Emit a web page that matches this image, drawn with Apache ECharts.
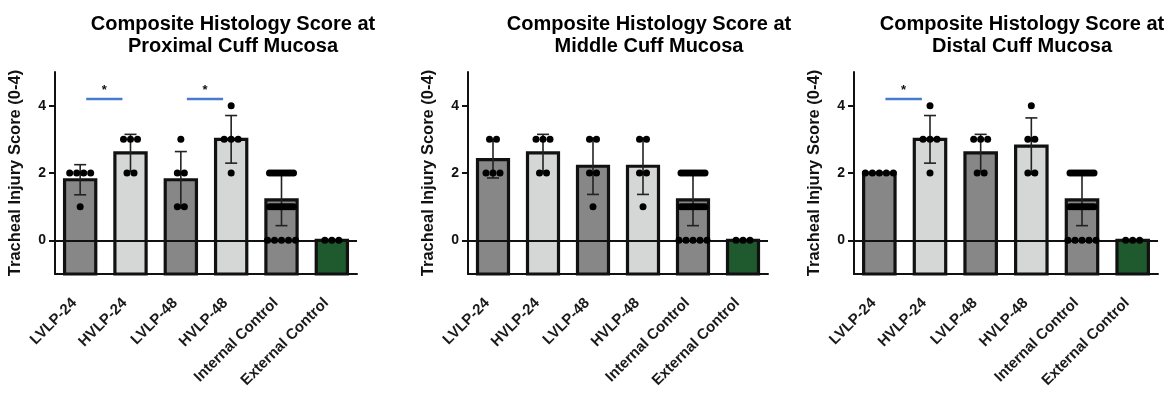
<!DOCTYPE html>
<html>
<head>
<meta charset="utf-8">
<script src="https://cdn.jsdelivr.net/npm/echarts@6/dist/echarts.min.js"></script>
<style>html,body{margin:0;padding:0;background:#fff}#c{width:1176px;height:393px}</style>
</head>
<body>
<div id="c"></div>
<script>
// ---------------- DATA ----------------
const categories = ['LVLP-24', 'HVLP-24', 'LVLP-48', 'HVLP-48', 'Internal Control', 'External Control'];
const yTickValues = [0, 2, 4];
const yAxisName = 'Tracheal Injury Score (0-4)';
const panelTitles = [
  'Composite Histology Score at\nProximal Cuff Mucosa',
  'Composite Histology Score at\nMiddle Cuff Mucosa',
  'Composite Histology Score at\nDistal Cuff Mucosa'
];
const internalControl = [2,2,2,2,2,2,2,2,2,2, 1,1,1,1,1,1,1,1,1,1, 0,0,0,0,0];
const proximalScores = [
  [2, 2, 2, 2, 1],
  [3, 3, 3, 2, 2],
  [3, 2, 2, 1, 1],
  [4, 3, 3, 3, 2],
  internalControl,
  [0, 0, 0]
];
const middleScores = [
  [3, 3, 2, 2, 2],
  [3, 3, 3, 2, 2],
  [3, 3, 2, 2, 1],
  [3, 3, 2, 2, 1],
  internalControl,
  [0, 0, 0]
];
const distalScores = [
  [2, 2, 2, 2, 2],
  [4, 3, 3, 3, 2],
  [3, 3, 3, 2, 2],
  [4, 3, 3, 2, 2],
  internalControl,
  [0, 0, 0]
];
// significant comparisons (category index pairs) per panel
const proximalSig = [[0, 1], [2, 3]];
const middleSig = [];
const distalSig = [[0, 1]];

// ---------------- STYLE / LAYOUT ----------------
const barColors = ['#878787', '#d5d7d6', '#878787', '#d5d7d6', '#878787', '#1f5a2e'];
const grids = [
  { left: 55, width: 302 },
  { left: 468, width: 300 },
  { left: 854, width: 304 }
];
const titleCenters = [228, 644, 1017];
const panels = [
  { scores: proximalScores, sig: proximalSig },
  { scores: middleScores, sig: middleSig },
  { scores: distalScores, sig: distalSig }
];

function mean(a) { return a.reduce((s, v) => s + v, 0) / a.length; }
function sd(a) {
  if (a.length < 2) return 0;
  const m = mean(a);
  return Math.sqrt(a.reduce((s, v) => s + (v - m) * (v - m), 0) / (a.length - 1));
}

const option = {
  animation: false,
  backgroundColor: '#fff',
  title: [], grid: [], xAxis: [], yAxis: [], series: []
};

const FONT = '"Liberation Sans", Arial, sans-serif';

panels.forEach((p, pi) => {
  option.title.push({
    text: panelTitles[pi],
    left: titleCenters[pi], top: 8, textAlign: 'center',
    textStyle: { fontFamily: FONT, fontWeight: 'bold', fontSize: 20, lineHeight: 22, color: '#000' }
  });
  option.grid.push({ left: grids[pi].left, width: grids[pi].width, top: 72, bottom: 119, containLabel: false });
  option.xAxis.push({
    type: 'category', gridIndex: pi, data: categories,
    axisLine: { onZero: false, lineStyle: { color: '#111', width: 2 } },
    axisTick: { alignWithLabel: true, length: 7, lineStyle: { color: '#111', width: 2 } },
    axisLabel: { rotate: 45, interval: 0, margin: 21, padding: [0, 8, 0, 0], fontFamily: FONT, fontWeight: 'bold', fontSize: 15, color: '#1a1a1a' }
  });
  option.yAxis.push({
    type: 'value', gridIndex: pi, min: -1, max: 5,
    name: yAxisName, nameLocation: 'middle', nameGap: 31,
    nameTextStyle: { fontFamily: FONT, fontWeight: 'bold', fontSize: 16.5, color: '#111' },
    splitLine: { show: false },
    axisLine: { show: true, lineStyle: { color: '#111', width: 2 } },
    axisTick: { show: true, length: 6, customValues: yTickValues, lineStyle: { color: '#111', width: 2 } },
    axisLabel: { customValues: yTickValues, margin: 9, fontFamily: FONT, fontWeight: 'bold', fontSize: 14, color: '#111' }
  });

  const stats = p.scores.map((arr, i) => [i, mean(arr), sd(arr)]);

  // bars (from axis bottom to mean)
  option.series.push({
    type: 'custom', xAxisIndex: pi, yAxisIndex: pi, z: 2,
    data: stats.map(s => [s[0], s[1]]),
    renderItem: function (params, api) {
      const i = api.value(0), m = api.value(1);
      const top = api.coord([i, m]);
      const bot = api.coord([i, -1]);
      const w = api.size([1, 0])[0] * 0.62;
      return {
        type: 'rect',
        shape: { x: top[0] - w / 2, y: top[1], width: w, height: bot[1] - top[1] },
        style: { fill: barColors[i], stroke: '#111', lineWidth: 3.2 }
      };
    },
    markLine: {
      silent: true, symbol: 'none', z: 5,
      label: { show: false },
      lineStyle: { color: '#111', width: 2, type: 'solid' },
      data: [{ yAxis: 0 }]
    }
  });

  // error bars (mean ± SD)
  option.series.push({
    type: 'custom', xAxisIndex: pi, yAxisIndex: pi, z: 6,
    data: stats,
    renderItem: function (params, api) {
      const i = api.value(0), m = api.value(1), s = api.value(2);
      if (!(s > 0)) return null;
      const hi = api.coord([i, m + s]);
      const lo = api.coord([i, m - s]);
      const cw = 6;
      const st = { stroke: '#222', lineWidth: 1.6 };
      return {
        type: 'group',
        children: [
          { type: 'line', shape: { x1: hi[0], y1: hi[1], x2: lo[0], y2: lo[1] }, style: st },
          { type: 'line', shape: { x1: hi[0] - cw, y1: hi[1], x2: hi[0] + cw, y2: hi[1] }, style: st },
          { type: 'line', shape: { x1: lo[0] - cw, y1: lo[1], x2: lo[0] + cw, y2: lo[1] }, style: st }
        ]
      };
    }
  });

  // individual points, spread horizontally within each (category, value) group
  const pts = [];
  p.scores.forEach((arr, i) => {
    const counts = {};
    arr.forEach(v => { counts[v] = (counts[v] || 0) + 1; });
    const seen = {};
    arr.forEach(v => {
      const k = seen[v] || 0; seen[v] = k + 1;
      pts.push([i, v, k, counts[v]]);
    });
  });
  option.series.push({
    type: 'custom', xAxisIndex: pi, yAxisIndex: pi, z: 8,
    data: pts,
    renderItem: function (params, api) {
      const i = api.value(0), v = api.value(1), k = api.value(2), n = api.value(3);
      const c = api.coord([i, v]);
      const spacing = n > 5 ? 24 / (n - 1) : 7;
      const dx = (k - (n - 1) / 2) * spacing;
      return { type: 'circle', shape: { cx: c[0] + dx, cy: c[1], r: 3.5 }, style: { fill: '#000' } };
    }
  });

  // significance lines
  if (p.sig.length) {
    option.series.push({
      type: 'custom', xAxisIndex: pi, yAxisIndex: pi, z: 9,
      data: p.sig.map(s => [s[0], s[1]]),
      renderItem: function (params, api) {
        const a = api.value(0), b = api.value(1);
        const band = api.size([1, 0])[0];
        const pa = api.coord([a, 4.2]);
        const pb = api.coord([b, 4.2]);
        const x1 = pa[0] + band * 0.12, x2 = pb[0] - band * 0.16;
        return {
          type: 'group',
          children: [
            { type: 'line', shape: { x1: x1, y1: pa[1], x2: x2, y2: pa[1] }, style: { stroke: '#4a7bcb', lineWidth: 2.5 } },
            { type: 'text', x: (x1 + x2) / 2, y: pa[1] - 2,
              style: { text: '*', textAlign: 'center', textVerticalAlign: 'bottom', fontFamily: FONT, fontWeight: 'bold', fontSize: 13, fill: '#111' } }
          ]
        };
      }
    });
  }
});

const chart = echarts.init(document.getElementById('c'), null, { renderer: 'canvas' });
chart.setOption(option);
</script>
</body>
</html>
